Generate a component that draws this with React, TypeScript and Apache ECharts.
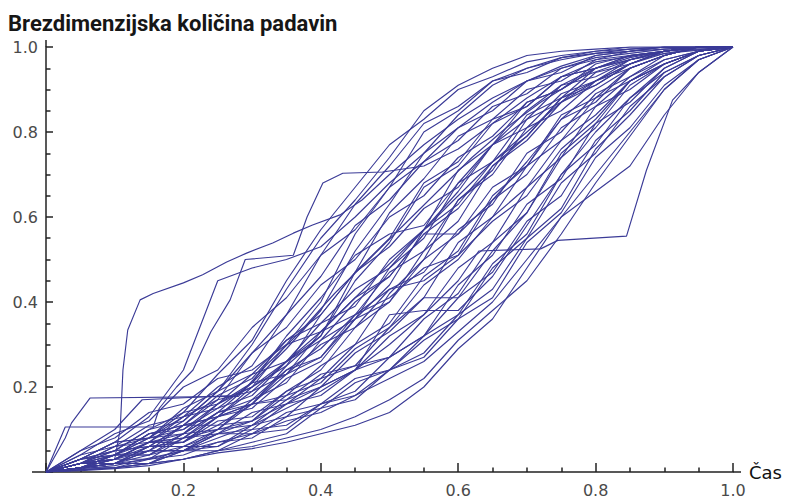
import React, { useEffect, useRef } from "react";
import * as echarts from "echarts";

// Dimensionless time grid shared by the regularly sampled mass curves
const timeGrid = [0, 0.05, 0.1, 0.15, 0.2, 0.25, 0.3, 0.35, 0.4, 0.45, 0.5, 0.55, 0.6, 0.65, 0.7, 0.75, 0.8, 0.85, 0.9, 0.95, 1];

// Dimensionless cumulative rainfall per storm, sampled on timeGrid
const storm01 = [0, .03, .05, .10, .14, .23, .31, .45, .57, .67, .77, .83, .90, .93, .965, .98, .99, .995, 1, 1, 1];
const storm02 = [0, .02, .06, .07, .13, .17, .28, .37, .51, .63, .72, .82, .86, .92, .94, .975, .985, .99, 1, 1, 1];
const storm03 = [0, .01, .04, .08, .10, .16, .20, .30, .40, .56, .67, .80, .85, .92, .95, .97, .985, .995, 1, 1, 1];
const storm04 = [0, .04, .09, .12, .20, .24, .34, .41, .51, .57, .67, .73, .81, .85, .92, .94, .98, .99, 1, 1, 1];
const storm05 = [0, .01, .03, .07, .09, .16, .21, .32, .41, .51, .56, .58, .68, .77, .85, .91, .95, .98, .99, 1, 1];
const storm06 = [0, .02, .04, .09, .11, .17, .19, .26, .32, .45, .54, .67, .72, .82, .86, .93, .95, .975, .99, 1, 1];
const storm07 = [0, .03, .07, .08, .14, .16, .23, .26, .35, .39, .50, .57, .71, .77, .87, .90, .95, .97, .99, 1, 1];
const storm08 = [0, .01, .02, .06, .07, .13, .16, .25, .32, .47, .55, .68, .73, .83, .86, .93, .95, .98, .99, 1, 1];
const storm09 = [0, .02, .05, .06, .11, .13, .19, .23, .33, .37, .47, .52, .64, .71, .83, .87, .94, .96, .99, 1, 1];
const storm10 = [0, .03, .04, .09, .10, .15, .18, .26, .31, .40, .46, .56, .56, .64, .73, .83, .90, .95, .98, 1, 1];
const storm11 = [0, .01, .03, .03, .08, .10, .17, .21, .31, .36, .48, .55, .68, .73, .84, .88, .95, .97, .99, 1, 1];
const storm12 = [0, .02, .03, .07, .08, .14, .17, .24, .27, .36, .40, .52, .59, .72, .79, .88, .92, .96, .99, 1, 1];
const storm13 = [0, .01, .04, .04, .09, .10, .16, .18, .25, .30, .42, .50, .64, .70, .81, .85, .92, .95, .98, 1, 1];
const storm14 = [0, .02, .04, .08, .09, .14, .16, .23, .27, .37, .43, .45, .51, .64, .70, .81, .86, .93, .97, .99, 1];
const storm15 = [0, .03, .07, .08, .13, .15, .21, .23, .30, .34, .43, .47, .57, .63, .75, .80, .89, .93, .98, 1, 1];
const storm16 = [0, .01, .02, .05, .05, .10, .12, .19, .24, .34, .40, .50, .56, .67, .72, .83, .87, .95, .98, 1, 1];
const storm17 = [0, .02, .03, .07, .07, .12, .13, .19, .22, .30, .35, .46, .52, .65, .72, .84, .88, .95, .98, 1, 1];
const storm18 = [0, .01, .04, .04, .08, .09, .14, .16, .22, .25, .34, .41, .54, .60, .72, .78, .88, .92, .97, .99, 1];
const storm19 = [0, .02, .02, .06, .06, .10, .11, .17, .20, .28, .33, .41, .41, .52, .61, .75, .82, .92, .96, .99, 1];
const storm20 = [0, .01, .02, .02, .06, .06, .11, .13, .20, .24, .32, .37, .48, .54, .67, .74, .86, .90, .96, .99, 1];
const storm21 = [0, .02, .05, .06, .11, .11, .16, .17, .23, .25, .27, .32, .44, .51, .63, .69, .82, .87, .95, .99, 1];
const storm22 = [0, .01, .02, .05, .05, .09, .10, .16, .18, .24, .27, .36, .42, .54, .61, .74, .81, .91, .96, .99, 1];
const storm23 = [0, .01, .01, .03, .04, .07, .08, .13, .15, .21, .24, .32, .37, .49, .56, .70, .77, .88, .94, .98, 1];
const storm24 = [0, .005, .01, .02, .05, .05, .09, .10, .16, .19, .27, .32, .41, .47, .59, .65, .78, .85, .94, .98, 1];
const storm25 = [0, .01, .02, .02, .05, .06, .10, .11, .16, .18, .24, .28, .37, .43, .55, .62, .76, .84, .93, .98, 1];
const storm26 = [0, .003, .008, .015, .03, .045, .055, .07, .09, .11, .14, .20, .29, .36, .48, .60, .66, .72, .84, .94, 1];
const storm27 = [0, .005, .01, .02, .03, .05, .07, .09, .15, .17, .24, .27, .36, .41, .54, .61, .74, .81, .91, .97, 1];
const storm28 = [0, .01, .02, .05, .05, .09, .09, .14, .16, .22, .24, .31, .36, .48, .55, .68, .75, .86, .93, .98, 1];
const storm29 = [0, .03, .04, .09, .11, .18, .22, .31, .37, .47, .53, .62, .67, .77, .81, .89, .92, .97, .99, 1, 1];
const storm30 = [0, .02, .06, .08, .15, .19, .28, .34, .44, .50, .60, .65, .74, .79, .87, .90, .96, .98, .99, 1, 1];
const storm31 = [0, .04, .06, .11, .13, .20, .25, .37, .46, .58, .64, .73, .78, .86, .89, .95, .97, .99, 1, 1, 1];
const storm32 = [0, .01, .04, .05, .11, .13, .20, .25, .37, .47, .61, .69, .79, .83, .90, .92, .97, .98, .99, 1, 1];
const storm33 = [0, .02, .03, .07, .08, .13, .15, .22, .26, .36, .44, .57, .66, .77, .83, .91, .93, .97, .99, 1, 1];
const storm34 = [0, .01, .02, .04, .06, .09, .12, .16, .20, .24, .37, .38, .38, .46, .58, .70, .80, .88, .95, .99, 1];
const storm35 = [0, .02, .03, .07, .07, .11, .12, .18, .21, .29, .34, .44, .50, .60, .67, .78, .84, .92, .96, .99, 1];
const storm36 = [0, .03, .05, .10, .12, .19, .23, .31, .35, .43, .48, .57, .63, .73, .79, .88, .91, .96, .99, 1, 1];
const storm37 = [0, .05, .08, .14, .16, .22, .24, .30, .33, .41, .46, .56, .62, .72, .78, .87, .91, .96, .99, 1, 1];
const storm38 = [0, .02, .03, .06, .07, .13, .16, .24, .29, .37, .41, .48, .51, .59, .65, .76, .83, .92, .96, .99, 1];
const storm39 = [0, .03, .07, .13, .24, .45, .48, .50, .53, .60, .68, .75, .81, .87, .92, .955, .98, .99, .995, 1, 1];
const storm40 = [0, .02, .04, .07, .12, .19, .30, .43, .55, .64, .74, .85, .91, .95, .98, .99, .995, 1, 1, 1, 1];
const storm41 = [0, .01, .03, .05, .09, .14, .21, .29, .38, .52, .63, .75, .84, .91, .95, .975, .99, 1, 1, 1, 1];
const storm42 = [0, .005, .01, .02, .03, .05, .06, .08, .10, .13, .17, .22, .31, .38, .45, .56, .68, .79, .90, .97, 1];
const storm43 = [0, .01, .02, .03, .05, .07, .09, .12, .14, .18, .22, .26, .33, .40, .50, .60, .70, .80, .90, .97, 1];

// Storms with abrupt bursts or pauses, given as [time, cumulative rainfall] pairs
const burstEarly = [[0, 0], [0.05, 0.01], [0.1, 0.03], [0.108, 0.1], [0.112, 0.24], [0.119, 0.334], [0.137, 0.405], [0.156, 0.42], [0.2, 0.445], [0.228, 0.464], [0.263, 0.494], [0.292, 0.515], [0.33, 0.539], [0.36, 0.562], [0.388, 0.581], [0.428, 0.605], [0.46, 0.64], [0.5, 0.70], [0.55, 0.77], [0.6, 0.83], [0.65, 0.88], [0.7, 0.92], [0.75, 0.95], [0.8, 0.975], [0.9, 0.995], [1, 1]];
const burstMiddle = [[0, 0], [0.028, 0.106], [0.156, 0.106], [0.165, 0.15], [0.19, 0.2], [0.214, 0.24], [0.24, 0.33], [0.268, 0.405], [0.29, 0.5], [0.36, 0.51], [0.38, 0.60], [0.403, 0.68], [0.432, 0.703], [0.49, 0.706], [0.55, 0.72], [0.6, 0.76], [0.65, 0.82], [0.7, 0.88], [0.75, 0.93], [0.8, 0.965], [0.9, 0.99], [1, 1]];
const burstLate = [[0, 0], [0.1, 0.015], [0.2, 0.05], [0.3, 0.11], [0.4, 0.19], [0.45, 0.24], [0.5, 0.3], [0.55, 0.37], [0.6, 0.45], [0.63, 0.52], [0.72, 0.525], [0.745, 0.545], [0.845, 0.555], [0.874, 0.71], [0.912, 0.875], [0.95, 0.94], [1, 1]];
const pauseEarlyA = [[0, 0], [0.028, 0.08], [0.037, 0.115], [0.064, 0.174], [0.28, 0.178], [0.32, 0.25], [0.37, 0.33], [0.42, 0.42], [0.47, 0.50], [0.52, 0.58], [0.57, 0.66], [0.62, 0.74], [0.67, 0.81], [0.72, 0.87], [0.78, 0.93], [0.85, 0.97], [0.92, 0.99], [1, 1]];
const pauseEarlyB = [[0, 0], [0.05, 0.05], [0.1, 0.1], [0.14, 0.17], [0.27, 0.18], [0.3, 0.2], [0.35, 0.26], [0.4, 0.33], [0.45, 0.41], [0.5, 0.49], [0.55, 0.57], [0.6, 0.65], [0.65, 0.73], [0.7, 0.8], [0.75, 0.87], [0.8, 0.92], [0.85, 0.96], [0.9, 0.985], [1, 1]];

const gridStorms = [
  storm01, storm02, storm03, storm04, storm05, storm06, storm07, storm08, storm09, storm10,
  storm11, storm12, storm13, storm14, storm15, storm16, storm17, storm18, storm19, storm20,
  storm21, storm22, storm23, storm24, storm25, storm26, storm27, storm28, storm29, storm30,
  storm31, storm32, storm33, storm34, storm35, storm36, storm37, storm38, storm39, storm40,
  storm41, storm42, storm43,
];
const pairStorms = [burstEarly, burstMiddle, burstLate, pauseEarlyA, pauseEarlyB];

const LINE_COLOR = "#3b3b97";
const AXIS_COLOR = "#222";
const LABEL_FONT = "DejaVu Sans";

export default function App() {
  const ref = useRef<HTMLDivElement>(null);

  useEffect(() => {
    if (!ref.current) return;
    const chart = echarts.init(ref.current, null, { renderer: "svg" });

    const allCurves: number[][][] = [
      ...gridStorms.map((ys) => ys.map((y, i) => [timeGrid[i], y])),
      ...pairStorms,
    ];

    const series = allCurves.map((data, i) => ({
      type: "line",
      name: "s" + i,
      data,
      showSymbol: false,
      silent: true,
      lineStyle: { color: LINE_COLOR, width: 1.15 },
      emphasis: { disabled: true },
    }));

    const axisLineStyle = { color: AXIS_COLOR, width: 1.5 };
    const tickLabel = (v: number) => (v === 0 ? "" : v.toFixed(1));

    chart.setOption({
      animation: false,
      backgroundColor: "#ffffff",
      title: {
        text: "Brezdimenzijska količina padavin",
        left: 8,
        top: 12,
        padding: 0,
        textStyle: { fontFamily: "Roboto", fontWeight: "bold", fontSize: 22, color: "#161616" },
      },
      grid: { left: 46, right: 54, top: 47, bottom: 26 },
      xAxis: {
        type: "value",
        min: 0,
        max: 1,
        interval: 0.2,
        name: "Čas",
        nameLocation: "end",
        nameGap: 16,
        nameTextStyle: { fontFamily: LABEL_FONT, fontSize: 18, color: "#111", verticalAlign: "middle", align: "left" },
        axisLine: { show: true, onZero: false, lineStyle: axisLineStyle },
        axisTick: { show: true, inside: true, length: 9, lineStyle: axisLineStyle },
        minorTick: { show: true, splitNumber: 4, length: 4.5, lineStyle: axisLineStyle },
        splitLine: { show: false },
        minorSplitLine: { show: false },
        axisLabel: { formatter: tickLabel, margin: 10, fontFamily: LABEL_FONT, fontSize: 16, color: "#4a4a4a" },
      },
      yAxis: {
        type: "value",
        min: 0,
        max: 1,
        interval: 0.2,
        axisLine: { show: true, onZero: false, lineStyle: axisLineStyle },
        axisTick: { show: true, inside: true, length: 7, lineStyle: axisLineStyle },
        minorTick: { show: true, splitNumber: 4, length: 4.5, lineStyle: axisLineStyle },
        splitLine: { show: false },
        minorSplitLine: { show: false },
        axisLabel: { formatter: tickLabel, margin: 8, fontFamily: LABEL_FONT, fontSize: 16, color: "#4a4a4a" },
      },
      graphic: [
        // axis overhangs past the plotted range
        { type: "line", shape: { x1: 32, y1: 472, x2: 46, y2: 472 }, style: { stroke: AXIS_COLOR, lineWidth: 1.5 } },
        { type: "line", shape: { x1: 733, y1: 472, x2: 741, y2: 472 }, style: { stroke: AXIS_COLOR, lineWidth: 1.5 } },
        { type: "line", shape: { x1: 46, y1: 40, x2: 46, y2: 47 }, style: { stroke: AXIS_COLOR, lineWidth: 1.5 } },
      ],
      series,
    });

    return () => chart.dispose();
  }, []);

  return (
    <div
      ref={ref}
      style={{ position: "fixed", left: 0, top: 0, width: 787, height: 498, background: "#fff" }}
    />
  );
}
